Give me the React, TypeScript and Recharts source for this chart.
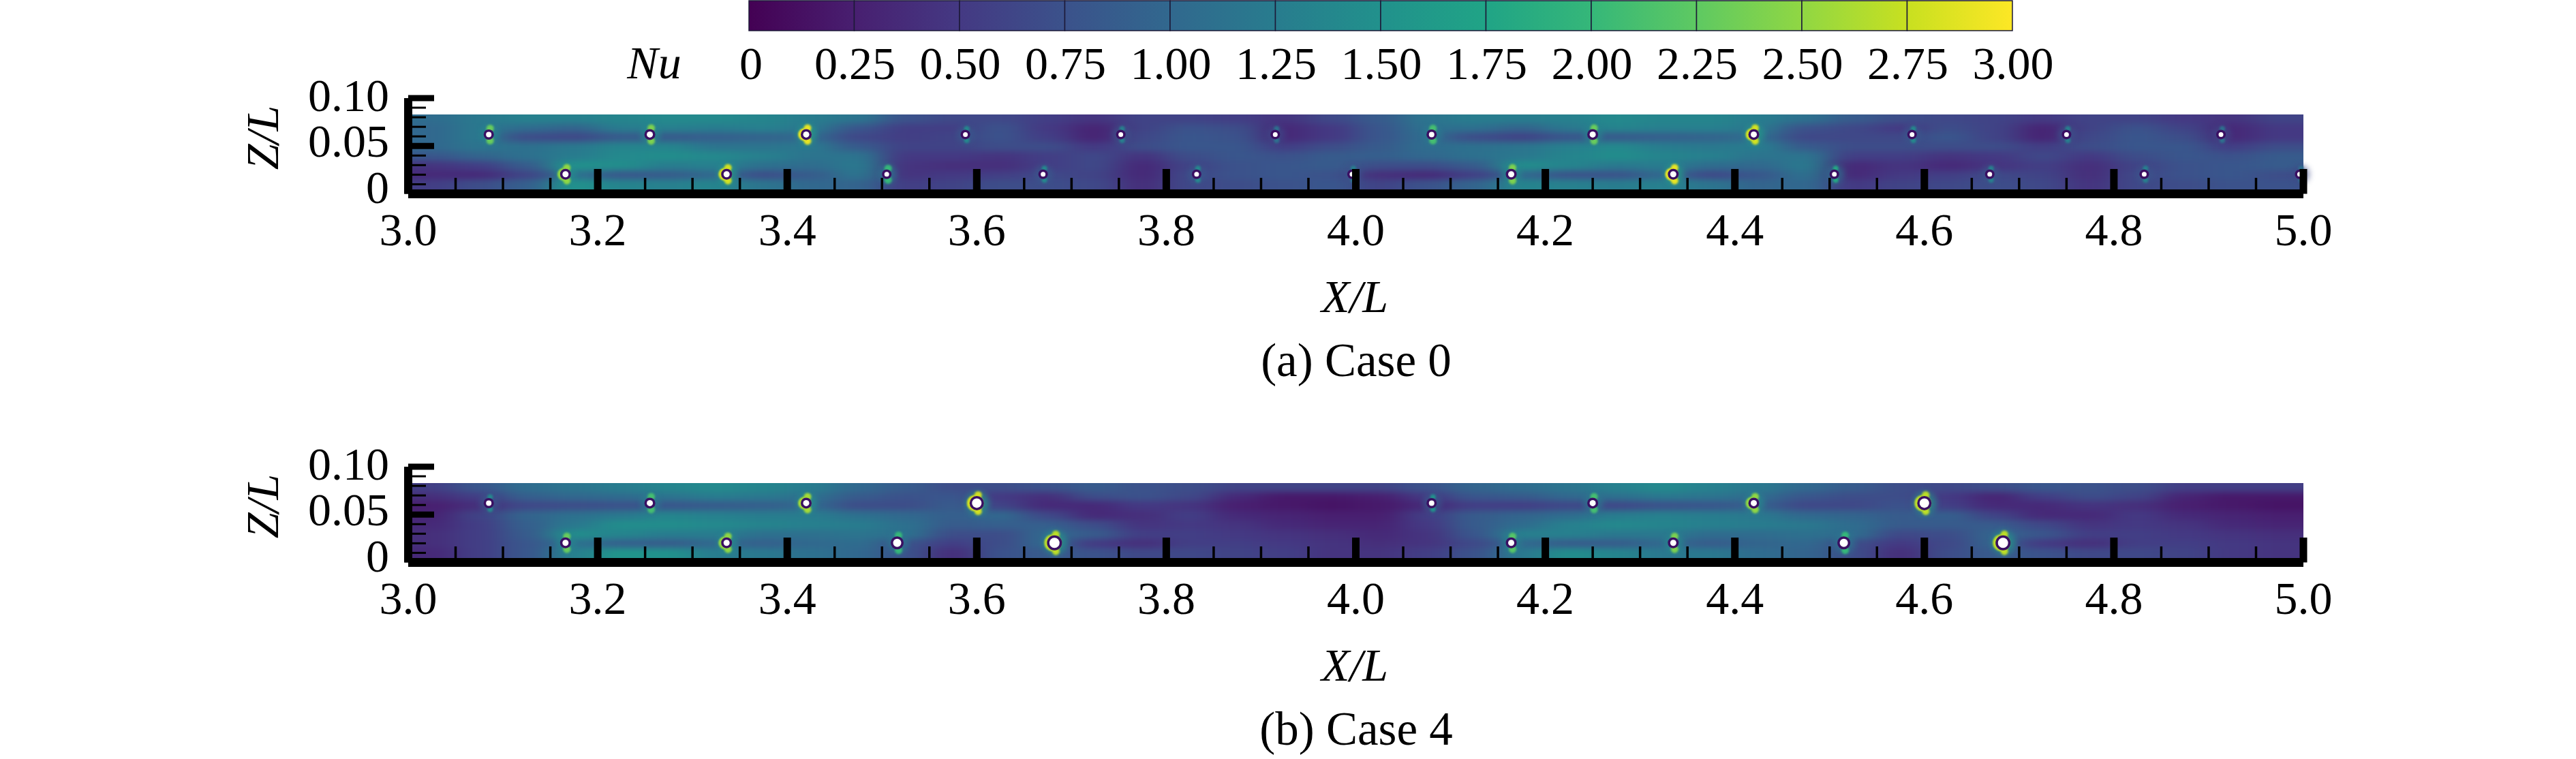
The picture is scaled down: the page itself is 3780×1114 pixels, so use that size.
import React from 'react';
import { Bar, BarChart, Scatter, ScatterChart, XAxis, YAxis } from 'recharts';

const FONT = '"Liberation Serif", "Times New Roman", serif';
const FONT_SIZE = 68;

// colour bar
const nuTicks = [0, 0.25, 0.5, 0.75, 1, 1.25, 1.5, 1.75, 2, 2.25, 2.5, 2.75, 3];
const viridis = [
  '#440154', '#481f70', '#443983', '#3b528b', '#31688e', '#287c8e', '#21918c',
  '#20a486', '#35b779', '#5ec962', '#90d743', '#c8e020', '#fde725',
];
const barKeys = nuTicks.slice(1).map((_, i) => `s${i}`);
const barRow: Record<string, number | string> = { name: 'Nu' };
barKeys.forEach((k) => (barRow[k] = 0.25));

// axes
const xMajor = [3, 3.2, 3.4, 3.6, 3.8, 4, 4.2, 4.4, 4.6, 4.8, 5];
const xTicks = [
  3, 3.05, 3.1, 3.15, 3.2, 3.25, 3.3, 3.35, 3.4, 3.45, 3.5, 3.55, 3.6, 3.65, 3.7, 3.75, 3.8, 3.85, 3.9, 3.95, 4,
  4.05, 4.1, 4.15, 4.2, 4.25, 4.3, 4.35, 4.4, 4.45, 4.5, 4.55, 4.6, 4.65, 4.7, 4.75, 4.8, 4.85, 4.9, 4.95, 5,
];
const zMajor = [0, 0.05, 0.1];
const zTicks = [0, 0.01, 0.02, 0.03, 0.04, 0.05, 0.06, 0.07, 0.08, 0.09, 0.1];

// Nu field: one list per X/L column (every 0.05 from 3.025), top row to bottom row
const columnX = xTicks.slice(0, 40).map((x) => x + 0.025);
const rowZ = [0.078, 0.068, 0.059, 0.049, 0.039, 0.029, 0.019, 0.01];

const case0Field = [
  [1.05, 1.0, 1.0, 1.0, 0.8, 0.45, 0.35, 0.55],
  [1.2, 1.2, 1.2, 1.15, 0.95, 0.55, 0.35, 0.7],
  [1.3, 1.05, 0.7, 1.1, 1.1, 0.85, 0.6, 0.9],
  [1.3, 0.95, 0.65, 1.2, 1.25, 1.5, 1.1, 1.5],
  [1.35, 1.25, 0.85, 1.35, 1.4, 1.45, 0.8, 1.35],
  [1.4, 1.3, 0.85, 1.35, 1.45, 1.25, 0.85, 1.3],
  [1.4, 1.25, 0.9, 1.15, 1.4, 1.3, 1.0, 1.35],
  [1.35, 1.3, 0.95, 1.15, 1.3, 1.1, 0.7, 1.15],
  [1.25, 1.2, 1.0, 1.2, 1.15, 1.05, 0.85, 1.0],
  [1.15, 0.8, 0.65, 0.85, 1.15, 1.2, 1.15, 0.95],
  [0.75, 0.55, 0.55, 0.6, 0.5, 0.45, 0.45, 0.55],
  [0.65, 0.55, 0.6, 0.6, 0.5, 0.4, 0.5, 0.6],
  [0.65, 0.75, 0.75, 0.7, 0.45, 0.4, 0.55, 0.7],
  [0.55, 0.5, 0.55, 0.7, 0.55, 0.55, 0.65, 0.7],
  [0.45, 0.3, 0.3, 0.5, 0.65, 0.65, 0.6, 0.65],
  [0.6, 0.6, 0.65, 0.7, 0.45, 0.35, 0.35, 0.4],
  [0.6, 0.75, 0.8, 0.8, 0.7, 0.6, 0.65, 0.65],
  [0.55, 0.7, 0.75, 0.8, 0.8, 0.75, 0.75, 0.7],
  [0.45, 0.35, 0.35, 0.55, 0.75, 0.8, 0.8, 0.75],
  [0.65, 0.5, 0.5, 0.7, 0.85, 0.85, 0.75, 0.8],
  [0.85, 0.8, 0.8, 0.85, 0.9, 0.7, 0.4, 0.6],
  [1.15, 1.1, 1.05, 1.05, 1.0, 0.7, 0.35, 0.75],
  [1.25, 1.1, 0.7, 1.1, 1.1, 0.85, 0.55, 0.95],
  [1.25, 0.95, 0.6, 1.15, 1.2, 1.45, 1.0, 1.35],
  [1.3, 1.2, 0.8, 1.3, 1.35, 1.35, 0.75, 1.3],
  [1.4, 1.35, 0.85, 1.4, 1.45, 1.2, 0.75, 1.25],
  [1.35, 1.3, 0.9, 1.25, 1.35, 1.25, 1.0, 1.3],
  [1.35, 1.3, 0.95, 1.2, 1.3, 1.05, 0.65, 1.15],
  [1.25, 1.2, 1.05, 1.25, 1.15, 1.0, 0.8, 0.95],
  [1.1, 0.75, 0.65, 0.85, 1.15, 1.2, 1.1, 1.0],
  [0.85, 0.65, 0.65, 0.7, 0.55, 0.35, 0.35, 0.5],
  [0.7, 0.5, 0.65, 0.7, 0.55, 0.45, 0.5, 0.6],
  [0.65, 0.7, 0.8, 0.7, 0.45, 0.35, 0.55, 0.65],
  [0.6, 0.6, 0.6, 0.7, 0.5, 0.45, 0.65, 0.7],
  [0.5, 0.3, 0.3, 0.55, 0.65, 0.55, 0.6, 0.65],
  [0.6, 0.6, 0.65, 0.7, 0.5, 0.4, 0.4, 0.45],
  [0.6, 0.75, 0.8, 0.8, 0.7, 0.6, 0.65, 0.65],
  [0.5, 0.6, 0.7, 0.8, 0.8, 0.75, 0.75, 0.7],
  [0.45, 0.35, 0.35, 0.55, 0.75, 0.8, 0.8, 0.75],
  [0.6, 0.5, 0.5, 0.7, 0.85, 0.85, 0.7, 0.75],
];

const case4Field = [
  [0.55, 0.4, 0.25, 0.3, 0.35, 0.4, 0.4, 0.35],
  [0.8, 0.55, 0.4, 0.6, 0.55, 0.55, 0.55, 0.55],
  [1.05, 0.9, 0.65, 0.95, 0.9, 0.85, 0.8, 0.8],
  [1.15, 1.0, 0.7, 1.1, 1.2, 1.45, 1.1, 1.3],
  [1.25, 1.05, 0.75, 1.2, 1.45, 1.35, 0.9, 1.55],
  [1.35, 1.15, 0.8, 1.35, 1.45, 1.25, 0.85, 1.5],
  [1.4, 1.25, 0.85, 1.3, 1.4, 1.25, 1.0, 1.25],
  [1.35, 1.2, 0.9, 1.25, 1.35, 1.1, 0.9, 1.2],
  [1.25, 1.1, 1.0, 1.25, 1.3, 1.1, 1.0, 1.1],
  [1.0, 0.85, 0.7, 1.1, 1.25, 1.15, 1.05, 1.0],
  [0.85, 0.75, 0.7, 1.0, 1.1, 1.1, 0.75, 0.75],
  [0.7, 0.8, 0.85, 0.9, 0.85, 0.7, 0.55, 0.4],
  [0.7, 0.5, 0.6, 1.0, 0.9, 0.7, 0.7, 0.75],
  [0.75, 0.4, 0.35, 0.65, 0.9, 1.0, 1.0, 0.85],
  [0.85, 0.7, 0.35, 0.35, 0.7, 0.85, 0.5, 0.75],
  [0.75, 0.75, 0.5, 0.4, 0.45, 0.55, 0.4, 0.65],
  [0.7, 0.65, 0.45, 0.55, 0.5, 0.55, 0.55, 0.65],
  [0.6, 0.35, 0.25, 0.35, 0.45, 0.5, 0.55, 0.6],
  [0.6, 0.2, 0.2, 0.3, 0.35, 0.45, 0.5, 0.55],
  [0.6, 0.2, 0.15, 0.25, 0.3, 0.4, 0.45, 0.45],
  [0.6, 0.25, 0.2, 0.25, 0.3, 0.35, 0.4, 0.45],
  [0.75, 0.5, 0.35, 0.55, 0.5, 0.45, 0.45, 0.55],
  [0.95, 0.8, 0.55, 0.85, 0.85, 0.8, 0.65, 0.75],
  [1.05, 0.85, 0.55, 0.95, 1.05, 1.3, 1.0, 1.2],
  [1.15, 1.0, 0.65, 1.05, 1.3, 1.3, 0.85, 1.45],
  [1.3, 1.1, 0.65, 1.25, 1.4, 1.2, 0.85, 1.35],
  [1.4, 1.2, 0.75, 1.3, 1.35, 1.2, 1.0, 1.2],
  [1.3, 1.15, 0.8, 1.25, 1.3, 1.05, 0.85, 1.2],
  [1.2, 1.05, 0.9, 1.2, 1.25, 1.05, 0.95, 1.05],
  [1.0, 0.8, 0.65, 1.0, 1.2, 1.1, 1.0, 0.95],
  [0.85, 0.7, 0.65, 0.95, 1.05, 1.05, 0.7, 0.7],
  [0.7, 0.7, 0.75, 0.85, 0.85, 0.65, 0.5, 0.4],
  [0.65, 0.5, 0.55, 0.9, 0.85, 0.7, 0.65, 0.7],
  [0.7, 0.3, 0.35, 0.6, 0.85, 0.95, 0.95, 0.85],
  [0.8, 0.55, 0.35, 0.35, 0.65, 0.8, 0.5, 0.75],
  [0.75, 0.7, 0.45, 0.35, 0.45, 0.55, 0.4, 0.65],
  [0.7, 0.6, 0.4, 0.5, 0.5, 0.55, 0.55, 0.65],
  [0.55, 0.3, 0.25, 0.35, 0.45, 0.5, 0.55, 0.6],
  [0.55, 0.2, 0.2, 0.3, 0.35, 0.45, 0.5, 0.5],
  [0.55, 0.2, 0.15, 0.25, 0.3, 0.4, 0.45, 0.45],
];

// cylinders: X/L, local peak Nu, radius
const upperZ = 0.062;
const lowerZ = 0.0205;

const case0UpperX = [3.085, 3.255, 3.42, 3.588, 3.752, 3.915, 4.08, 4.25, 4.42, 4.587, 4.75, 4.913];
const case0UpperPeak = [2.3, 2.4, 2.9, 1.4, 1.3, 1.1, 2.1, 2.3, 2.8, 1.4, 1.3, 1.1];
const case0UpperR = [4, 4.5, 4.5, 3.5, 3.5, 3.5, 4, 4.5, 4.5, 3.5, 3.5, 3.5];
const case0LowerX = [3.166, 3.336, 3.505, 3.67, 3.832, 3.996, 4.164, 4.335, 4.505, 4.669, 4.832, 4.996];
const case0LowerPeak = [2.5, 2.8, 2.0, 1.4, 1.4, 1.3, 2.4, 2.9, 1.8, 1.3, 1.3, 1.1];
const case0LowerR = [4.5, 4.5, 3.5, 3.5, 3.5, 3.5, 4.5, 4.5, 3.5, 3.5, 3.5, 3.5];

const case4UpperX = [3.085, 3.255, 3.42, 3.6, 4.08, 4.25, 4.42, 4.6];
const case4UpperPeak = [1.4, 2.1, 2.6, 2.8, 1.5, 2.1, 2.5, 2.7];
const case4UpperR = [4, 4.5, 4.5, 7, 4, 4.5, 4.5, 7];
const case4LowerX = [3.166, 3.336, 3.516, 3.682, 4.164, 4.335, 4.515, 4.683];
const case4LowerPeak = [2.3, 2.5, 2.0, 2.7, 2.2, 2.4, 2.0, 2.7];
const case4LowerR = [4.5, 4.5, 6, 7.5, 4.5, 4.5, 6, 7.5];

// page layout
const PAGE_W = 3780;
const PANEL_H = 573;
const PLOT_LEFT = 599;
const PLOT_RIGHT = 3380;
const PLOT_TOP = 144;
const PLOT_BOTTOM = 284.5;
const FIELD_TOP = 168;
const AXIS_W = 100;
const PLOT_W = PLOT_RIGHT - PLOT_LEFT;
const CELL_W = (PLOT_W * 0.05) / 2 + 1;
const CELL_H = ((PLOT_BOTTOM - PLOT_TOP) / 0.1) * 0.0098 + 1;

function nuColor(nu: number) {
  const t = (Math.max(0, Math.min(3, nu)) / 3) * (viridis.length - 1);
  const i = Math.min(Math.floor(t), viridis.length - 2);
  const f = t - i;
  const a = viridis[i];
  const b = viridis[i + 1];
  const ch = (p: number) => {
    const x = parseInt(a.slice(p, p + 2), 16);
    const y = parseInt(b.slice(p, p + 2), 16);
    return Math.round(x + (y - x) * f);
  };
  return `rgb(${ch(1)},${ch(3)},${ch(5)})`;
}

function buildField(columns: number[][]) {
  return columns.flatMap((values, col) =>
    values.map((nu, row) => ({ x: columnX[col], z: rowZ[row], nu, col, row })),
  );
}

function buildCylinders(xs: number[], peaks: number[], radii: number[], z: number) {
  return xs.map((x, i) => ({ x, z, peak: peaks[i], r: radii[i] }));
}

const FieldCell = (props: any) => {
  const { cx, cy, payload } = props;
  const { col, row, nu } = payload;
  const left = col === 0 ? 80 : 0;
  const right = col === columnX.length - 1 ? 80 : 0;
  const up = row === 0 ? 30 : 0;
  const down = row === rowZ.length - 1 ? 30 : 0;
  return (
    <rect
      x={cx - CELL_W / 2 - left}
      y={cy - CELL_H / 2 - up}
      width={CELL_W + left + right}
      height={CELL_H + up + down}
      fill={nuColor(nu)}
    />
  );
};

const Cylinder = (props: any) => {
  const { cx, cy, payload } = props;
  const { peak, r } = payload;
  const lobe = nuColor(peak);
  const strong = peak >= 2.5;
  const lobeR = peak >= 1.9 ? 5.5 : 4;
  return (
    <g>
      <circle cx={cx + 1} cy={cy} r={r + 10} fill={nuColor(peak * 0.6)} opacity={0.6} filter="url(#haloBlur)" />
      <circle cx={cx + 2} cy={cy - r - 5} r={lobeR} fill={lobe} filter="url(#lobeBlur)" />
      <circle cx={cx + 2} cy={cy + r + 5} r={lobeR} fill={lobe} filter="url(#lobeBlur)" />
      {strong && <circle cx={cx - 2.5} cy={cy} r={r + 5} fill={lobe} filter="url(#edgeBlur)" />}
      <circle cx={cx} cy={cy} r={r + 3.5} fill="#3a0f62" />
      <circle cx={cx} cy={cy} r={r} fill="#ffffff" />
    </g>
  );
};

const XTick = (props: any) => {
  const { x, y, payload } = props;
  const major = xMajor.includes(payload.value);
  return (
    <g>
      <line x1={x} x2={x} y1={y} y2={y - (major ? 36.5 : 23.5)} stroke="#000" strokeWidth={major ? 11 : 3.5} />
      {major && (
        <text x={x} y={y + 75.5} textAnchor="middle" fontFamily={FONT} fontSize={FONT_SIZE} fill="#000">
          {payload.value.toFixed(1)}
        </text>
      )}
    </g>
  );
};

const ZTick = (props: any) => {
  const { x, y, payload } = props;
  const major = zMajor.includes(payload.value);
  const shift = 13 + payload.value * 60;
  return (
    <g>
      <line x1={x} x2={x + (major ? 38 : 26)} y1={y} y2={y} stroke="#000" strokeWidth={major ? 9 : 3} />
      {major && (
        <text x={x - 28} y={y + shift} textAnchor="end" fontFamily={FONT} fontSize={FONT_SIZE} fill="#000">
          {payload.value === 0 ? '0' : payload.value.toFixed(2)}
        </text>
      )}
    </g>
  );
};

const NuTick = (props: any) => {
  const { x, y, payload } = props;
  return (
    <text x={x + (payload.value === 0 ? 3 : 1)} y={y + 71} textAnchor="middle" fontFamily={FONT} fontSize={FONT_SIZE} fill="#000">
      {payload.value === 0 ? '0' : payload.value.toFixed(2)}
    </text>
  );
};

function Panel({ top, field, cylinders, caption }: { top: number; field: any[]; cylinders: any[]; caption: string }) {
  return (
    <div style={{ position: 'absolute', left: 0, top }}>
      <ScatterChart
        width={PAGE_W}
        height={PANEL_H}
        margin={{
          top: PLOT_TOP,
          right: PAGE_W - PLOT_RIGHT,
          bottom: PANEL_H - PLOT_BOTTOM - AXIS_W,
          left: PLOT_LEFT - AXIS_W,
        }}
      >
        <Scatter data={field} dataKey="z" className="nu-field" shape={FieldCell} isAnimationActive={false} zIndex={100} />
        <Scatter data={cylinders} dataKey="z" shape={Cylinder} isAnimationActive={false} zIndex={110} />
        <XAxis
          type="number"
          dataKey="x"
          domain={[3, 5]}
          ticks={xTicks}
          interval={0}
          height={AXIS_W}
          tickSize={0}
          tickMargin={0}
          tickLine={false}
          axisLine={{ stroke: '#000', strokeWidth: 13 }}
          tick={XTick}
        />
        <YAxis
          type="number"
          dataKey="z"
          domain={[0, 0.1]}
          ticks={zTicks}
          interval={0}
          width={AXIS_W}
          tickSize={0}
          tickMargin={0}
          tickLine={false}
          axisLine={{ stroke: '#000', strokeWidth: 12 }}
          tick={ZTick}
        />
        <text x={1988} y={458} textAnchor="middle" fontFamily={FONT} fontSize={FONT_SIZE} fontStyle="italic" fill="#000">
          X/L
        </text>
        <text x={1990} y={552} textAnchor="middle" fontFamily={FONT} fontSize={69} fill="#000">
          {caption}
        </text>
        <text
          transform="translate(408 202) rotate(-90)"
          textAnchor="middle"
          fontFamily={FONT}
          fontSize={FONT_SIZE}
          fontStyle="italic"
          fill="#000"
        >
          Z/L
        </text>
      </ScatterChart>
    </div>
  );
}

const case0Points = buildField(case0Field);
const case4Points = buildField(case4Field);
const case0Cylinders = [
  ...buildCylinders(case0UpperX, case0UpperPeak, case0UpperR, upperZ),
  ...buildCylinders(case0LowerX, case0LowerPeak, case0LowerR, lowerZ),
];
const case4Cylinders = [
  ...buildCylinders(case4UpperX, case4UpperPeak, case4UpperR, upperZ),
  ...buildCylinders(case4LowerX, case4LowerPeak, case4LowerR, lowerZ),
];

export default function App() {
  return (
    <div style={{ position: 'absolute', left: 0, top: 0, width: PAGE_W, height: 1114, background: '#fff', overflow: 'hidden' }}>
      <style>{`.nu-field { filter: url(#fieldBlur); clip-path: url(#fieldClip); }`}</style>
      <svg width={0} height={0} style={{ position: 'absolute' }}>
        <defs>
          <filter id="fieldBlur" filterUnits="userSpaceOnUse" x={0} y={0} width={PAGE_W} height={PANEL_H} colorInterpolationFilters="sRGB">
            <feGaussianBlur stdDeviation="20 4" />
          </filter>
          <filter id="haloBlur" x="-60%" y="-60%" width="220%" height="220%" colorInterpolationFilters="sRGB">
            <feGaussianBlur stdDeviation="4" />
          </filter>
          <filter id="lobeBlur" x="-100%" y="-100%" width="300%" height="300%" colorInterpolationFilters="sRGB">
            <feGaussianBlur stdDeviation="1.8" />
          </filter>
          <filter id="edgeBlur" x="-40%" y="-40%" width="180%" height="180%" colorInterpolationFilters="sRGB">
            <feGaussianBlur stdDeviation="1" />
          </filter>
          <clipPath id="fieldClip">
            <rect x={PLOT_LEFT} y={FIELD_TOP} width={PLOT_W} height={PLOT_BOTTOM - FIELD_TOP} />
          </clipPath>
          {barKeys.map((k, i) => (
            <linearGradient key={k} id={`seg-${k}`} x1="0" x2="1" y1="0" y2="0">
              <stop offset="0%" stopColor={viridis[i]} />
              <stop offset="100%" stopColor={viridis[i + 1]} />
            </linearGradient>
          ))}
        </defs>
      </svg>

      <Panel top={0} field={case0Points} cylinders={case0Cylinders} caption="(a) Case 0" />
      <Panel top={541} field={case4Points} cylinders={case4Cylinders} caption="(b) Case 4" />

      <div style={{ position: 'absolute', left: 0, top: 0 }}>
        <BarChart
          width={PAGE_W}
          height={130}
          data={[barRow]}
          layout="vertical"
          barCategoryGap={0}
          margin={{ top: 1, right: PAGE_W - 2953, bottom: 0, left: 1099 }}
        >
          <XAxis
            type="number"
            domain={[0, 3]}
            ticks={nuTicks}
            interval={0}
            height={85}
            tickSize={0}
            tickMargin={0}
            tickLine={false}
            axisLine={false}
            tick={NuTick}
          />
          <YAxis type="category" dataKey="name" hide />
          {barKeys.map((k) => (
            <Bar key={k} dataKey={k} stackId="nu" fill={`url(#seg-${k})`} stroke="#1d1a38" strokeWidth={1.5} isAnimationActive={false} />
          ))}
          <text x={960} y={115} textAnchor="middle" fontFamily={FONT} fontSize={FONT_SIZE} fontStyle="italic" fill="#000">
            Nu
          </text>
        </BarChart>
      </div>
    </div>
  );
}
